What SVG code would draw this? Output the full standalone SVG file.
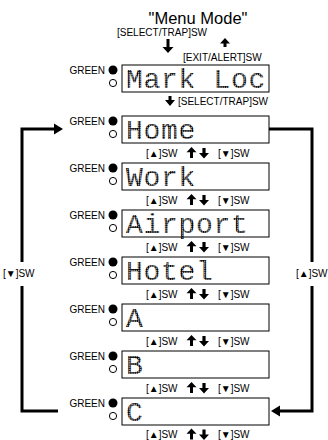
<svg xmlns="http://www.w3.org/2000/svg" width="328" height="440" viewBox="0 0 328 440">
<defs>
<pattern id="dots" width="2.2" height="2.2" patternUnits="userSpaceOnUse">
<circle cx="1.1" cy="1.1" r="1.02" fill="#000"/>
</pattern>
<g id="led">
<circle cx="0" cy="0" r="4.5" fill="#000"/>
<circle cx="0" cy="13" r="3.6" fill="#fff" stroke="#000" stroke-width="1"/>
</g>
<g id="ud">
<polygon points="-6.5,-6 -1.5,-0.8 -5,-0.8 -5,5 -8,5 -8,-0.8 -11.5,-0.8" fill="#000"/>
<polygon points="-1.6,-5 1.6,-5 1.6,0 5,0 0,5.5 -5,0 -1.6,0" fill="#000" transform="translate(6,0)"/>
</g>
</defs>
<style>
.t{font-family:"Liberation Sans",Arial,sans-serif;font-size:10px;fill:#000}
.box{fill:#fff;stroke:#000;stroke-width:1}
.lcd{font-family:"Liberation Mono","DejaVu Sans Mono",monospace;font-size:28px;letter-spacing:0.7px;fill:url(#dots)}
.line{fill:none;stroke:#000;stroke-width:3}
</style>
<text x="198" y="24" text-anchor="middle" style="font-family:'Liberation Sans',Arial,sans-serif;font-size:16.5px">"Menu Mode"</text>
<text class="t" x="117" y="36">[SELECT/TRAP]SW</text>
<polygon points="166.5,39 169.5,39 169.5,47 173.5,47 168,53 162.5,47 166.5,47" fill="#000"/>
<polygon points="225,38 230,43.5 226.5,43.5 226.5,47 223.5,47 223.5,43.5 220,43.5" fill="#000"/>
<text class="t" x="183" y="61">[EXIT/ALERT]SW</text>

<g id="node-markloc">
<use href="#led" x="113" y="70"/>
<text class="t" x="105" y="74" text-anchor="end">GREEN</text>
<rect class="box" x="122" y="65" width="147" height="27"/>
<text class="lcd" x="126" y="88">Mark Loc</text>
</g>
<polygon points="168.5,96 171.5,96 171.5,100 175,100 170,106 165,100 168.5,100" fill="#000"/>
<text class="t" x="178" y="105">[SELECT/TRAP]SW</text>

<g id="node-home">
<use href="#led" x="113" y="121"/>
<text class="t" x="105" y="125" text-anchor="end">GREEN</text>
<rect class="box" x="122" y="116" width="147" height="27"/>
<text class="lcd" x="126" y="139">Home</text>
</g>
<g id="node-work">
<use href="#led" x="113" y="168"/>
<text class="t" x="105" y="172" text-anchor="end">GREEN</text>
<rect class="box" x="122" y="163" width="147" height="27"/>
<text class="lcd" x="126" y="186">Work</text>
</g>
<g id="node-airport">
<use href="#led" x="113" y="215"/>
<text class="t" x="105" y="219" text-anchor="end">GREEN</text>
<rect class="box" x="122" y="210" width="147" height="27"/>
<text class="lcd" x="126" y="233">Airport</text>
</g>
<g id="node-hotel">
<use href="#led" x="113" y="262"/>
<text class="t" x="105" y="266" text-anchor="end">GREEN</text>
<rect class="box" x="122" y="257" width="147" height="27"/>
<text class="lcd" x="126" y="280">Hotel</text>
</g>
<g id="node-a">
<use href="#led" x="113" y="309"/>
<text class="t" x="105" y="313" text-anchor="end">GREEN</text>
<rect class="box" x="122" y="304" width="147" height="27"/>
<text class="lcd" x="126" y="327">A</text>
</g>
<g id="node-b">
<use href="#led" x="113" y="356"/>
<text class="t" x="105" y="360" text-anchor="end">GREEN</text>
<rect class="box" x="122" y="351" width="147" height="27"/>
<text class="lcd" x="126" y="374">B</text>
</g>
<g id="node-c">
<use href="#led" x="113" y="403"/>
<text class="t" x="105" y="407" text-anchor="end">GREEN</text>
<rect class="box" x="122" y="398" width="147" height="27"/>
<text class="lcd" x="126" y="421">C</text>
</g>

<g id="connectors">
<path class="line" d="M58 411H22V286"/>
<path class="line" d="M22 262V129H55"/>
<polygon points="63,129 54,123.5 54,134.5" fill="#000"/>
<path class="line" d="M269 129H312V262"/>
<path class="line" d="M312 286V411H280"/>
<polygon points="271,411 280,405.5 280,416.5" fill="#000"/>
<text class="t" x="3" y="277">[▼]SW</text>
<text class="t" x="296" y="277">[▲]SW</text>

<g>
<text class="t" x="146" y="156.5">[▲]SW</text><use href="#ud" x="198" y="153"/><text class="t" x="218" y="156.5">[▼]SW</text>
<text class="t" x="146" y="203.5">[▲]SW</text><use href="#ud" x="198" y="200"/><text class="t" x="218" y="203.5">[▼]SW</text>
<text class="t" x="146" y="250.5">[▲]SW</text><use href="#ud" x="198" y="247"/><text class="t" x="218" y="250.5">[▼]SW</text>
<text class="t" x="146" y="297.5">[▲]SW</text><use href="#ud" x="198" y="294"/><text class="t" x="218" y="297.5">[▼]SW</text>
<text class="t" x="146" y="344.5">[▲]SW</text><use href="#ud" x="198" y="341"/><text class="t" x="218" y="344.5">[▼]SW</text>
<text class="t" x="146" y="391.5">[▲]SW</text><use href="#ud" x="198" y="388"/><text class="t" x="218" y="391.5">[▼]SW</text>
<text class="t" x="146" y="438">[▲]SW</text><use href="#ud" x="198" y="434.5"/><text class="t" x="218" y="438">[▼]SW</text>
</g>
</g>
</svg>
